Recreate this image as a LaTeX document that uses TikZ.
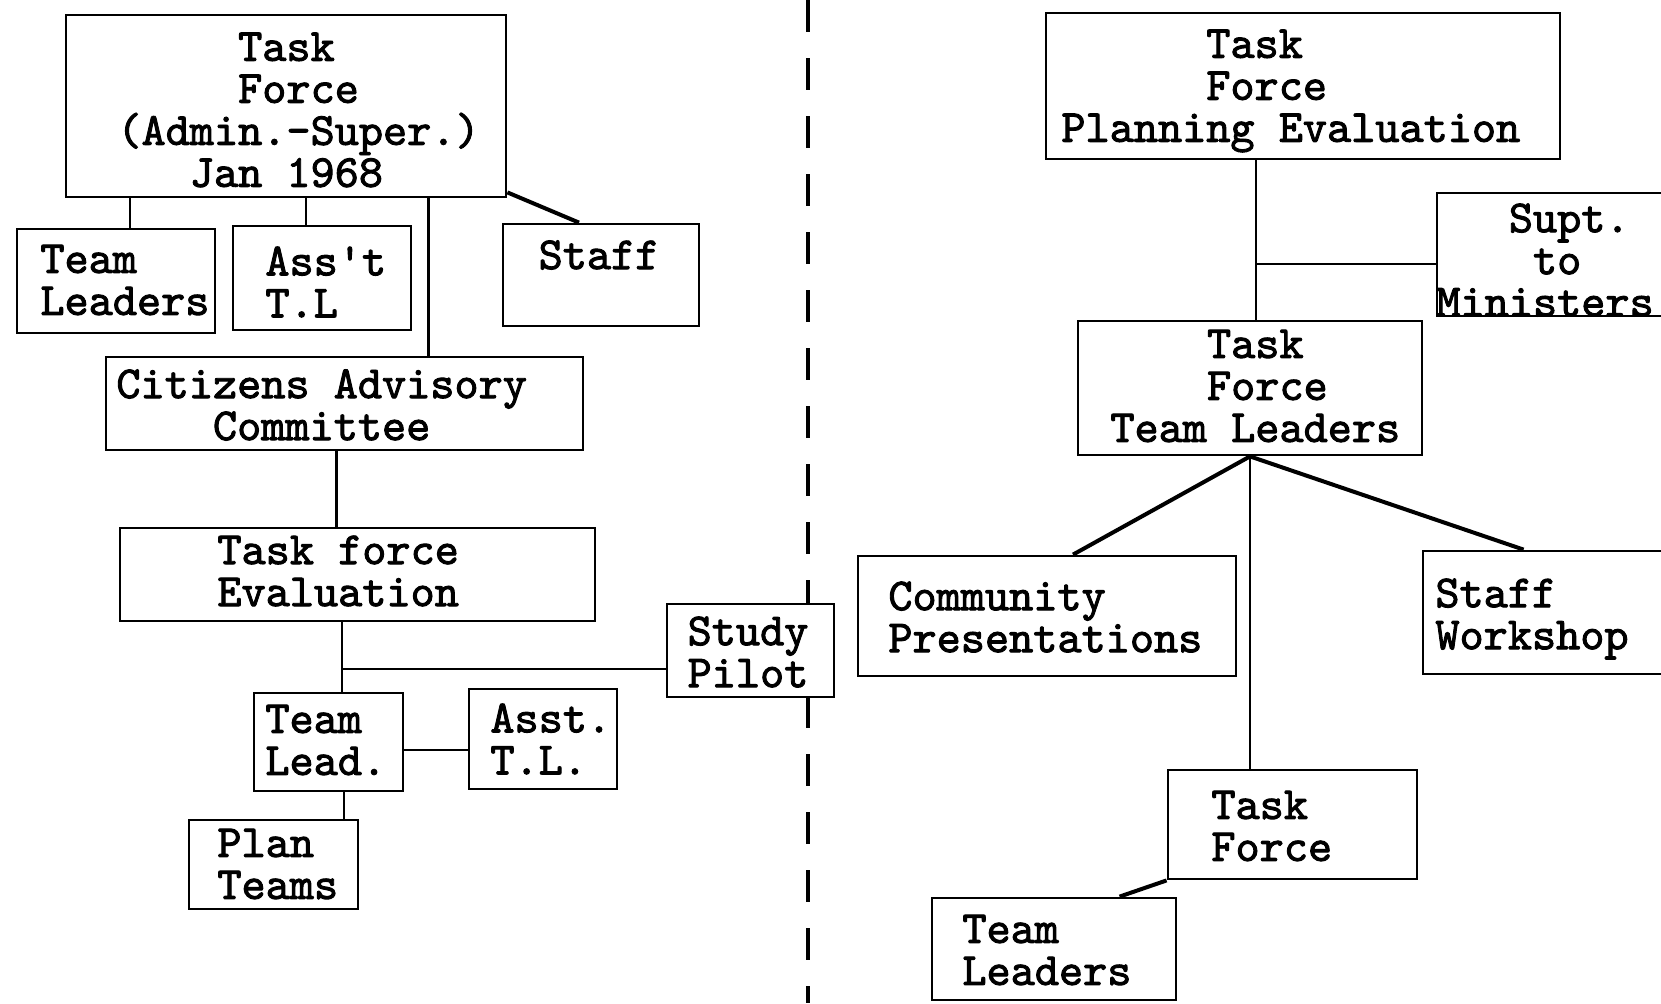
\documentclass[tikz,border=0pt]{standalone}
\usepackage{fontspec}
\newfontfamily\tw{lmmono10-regular.otf}[FakeBold=2]
\usetikzlibrary{fit}
\newcommand{\tsz}{\tw\fontsize{23}{21}\selectfont\lineskiplimit=-50pt}
\begin{document}
\begin{tikzpicture}[x=0.5pt,y=-0.5pt,
  box/.style={draw, line width=1.4pt, fill=white, inner sep=0pt},
  txt/.style={font=\tsz, inner sep=0pt, align=left, anchor=west},
  ctxt/.style={font=\tsz, inner sep=0pt, align=center},
  link/.style={line width=1.4pt},
  heavy/.style={line width=2pt},
  divider/.style={line width=1.8pt, dash pattern=on 16pt off 13pt}]
\useasboundingbox (0,0) rectangle (1661,1003);
\clip (0,0) rectangle (1661,1003);

% divider
\coordinate (dtop) at (808,0);
\coordinate (dbot) at (808,1003);
\draw[divider] (dtop) -- (dbot);

% left boxes
\node[box, fit={(66,15) (506,197)}] (tfa) {};
\node[box, fit={(17,229) (215,333)}] (tl) {};
\node[box, fit={(233,226) (411,330)}] (ast) {};
\node[box, fit={(503,224) (699,326)}] (staff) {};
\node[box, fit={(106,357) (583,450)}] (cac) {};
\node[box, fit={(120,528) (595,621)}] (tfe) {};
\node[box, fit={(667,604) (834,697)}] (sp) {};
\node[box, fit={(254,693) (403,791)}] (tlead) {};
\node[box, fit={(469,689) (617,789)}] (asst) {};
\node[box, fit={(189,820) (358,909)}] (plan) {};
% right boxes
\node[box, fit={(1046,13) (1560,159)}] (tfp) {};
\node[box, fit={(1437,193) (1680,316)}] (supt) {};
\node[box, fit={(1078,321) (1422,455)}] (tftl) {};
\node[box, fit={(858,556) (1236,676)}] (cp) {};
\node[box, fit={(1423,551) (1680,674)}] (sw) {};
\node[box, fit={(1168,770) (1417,879)}] (tf2) {};
\node[box, fit={(932,898) (1176,1000)}] (tl2) {};

% texts
\node[txt] (tfa-t) at (117,110) {\hphantom{00000}Task\\\hphantom{00000}Force\\(Admin.-Super.)\\\hphantom{000}Jan 1968};
\node[txt] (tl-t) at (40,280) {Team\\Leaders};
\node[txt] (ast-t) at (265,282) {Ass\textquotesingle t\\T.L};
\node[ctxt] (staff-t) at (599,255) {Staff};
\node[txt] (cac-t) at (116,405) {Citizens Advisory\\\hphantom{0000}Committee};
\node[txt] (tfe-t) at (217,571) {Task force\\Evaluation};
\node[ctxt] (sp-t) at (748,652) {Study\\Pilot};
\node[txt] (tlead-t) at (265,740) {Team\\Lead.};
\node[txt] (asst-t) at (490,739) {Asst.\\T.L.};
\node[txt] (plan-t) at (217,864) {Plan\\Teams};
\node[txt] (tfp-t) at (1061,91) {\hphantom{000000}Task\\\hphantom{000000}Force\\Planning Evaluation};
\node[txt] (supt-t) at (1436,260) {\hphantom{000}Supt.\\\hphantom{0000}to\\Ministers};
\node[txt] (tftl-t) at (1110,386) {\hphantom{0000}Task\\\hphantom{0000}Force\\Team Leaders};
\node[txt] (cp-t) at (888,617) {Community\\Presentations};
\node[txt] (sw-t) at (1435,619) {Staff\\Workshop};
\node[txt] (tf2-t) at (1211,826) {Task\\Force};
\node[txt] (tl2-t) at (962,950) {Team\\Leaders};

% left connectors
\draw[link] ([xshift=7pt]tl.north) -- ([xshift=7pt]tl.north |- tfa.south);
\draw[link] ([xshift=-8pt]ast.north) -- ([xshift=-8pt]ast.north |- tfa.south);
\draw[link] ([xshift=42pt]cac.north) -- ([xshift=42pt]cac.north |- tfa.south);
\draw[heavy] ([yshift=3pt]tfa.south east) -- ([xshift=-11pt]staff.north);
\draw[link] ([xshift=-4pt]cac.south) -- ([xshift=-4pt]cac.south |- tfe.north);
\coordinate (tlx) at ([xshift=6.75pt]tlead.north);
\draw[link] (tlx) -- (tlx |- tfe.south);
\draw[link] ([yshift=-9.25pt]sp.west) -- ([yshift=-9.25pt]sp.west -| tlx);
\draw[link] ([yshift=-5.5pt]asst.west) -- ([yshift=-5.5pt]asst.west -| tlead.east);
\draw[link] ([xshift=7.75pt]tlead.south) -- ([xshift=7.75pt]tlead.south |- plan.north);

% right connectors
\coordinate (rx) at ([xshift=3pt]tftl.north);
\draw[link] (rx) -- (rx |- tfp.south);
\draw[link] ([yshift=-4.75pt]supt.west) -- ([yshift=-4.75pt]supt.west -| rx);
\draw[heavy] (tftl.south) -- ([xshift=13pt]cp.north);
\draw[heavy] (tftl.south) -- ([xshift=51pt]sw.north west);
\draw[link] (tftl.south) -- (tftl.south |- tf2.north);
\draw[heavy] (tf2.south west) -- ([xshift=94.5pt]tl2.north west);
\end{tikzpicture}
\end{document}
